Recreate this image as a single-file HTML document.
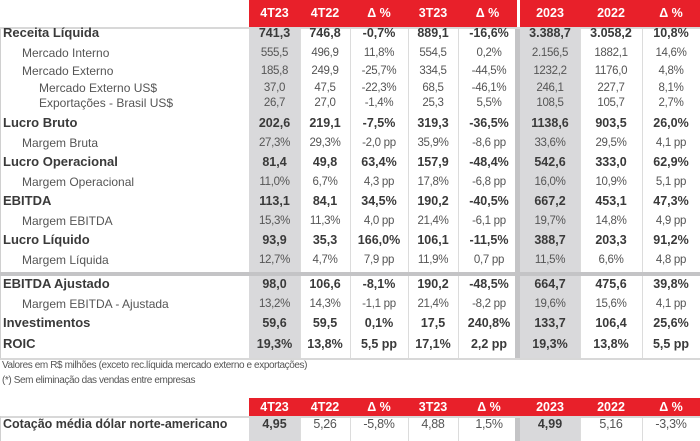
<!DOCTYPE html>
<html><head><meta charset="utf-8"><style>
body{margin:0;width:700px;height:441px;background:#fff;position:relative;overflow:hidden;font-family:"Liberation Sans",Arial,sans-serif;color:#444}
div.a{position:absolute}
.c{position:absolute;text-align:center;white-space:nowrap;line-height:16px}
.l{position:absolute;white-space:nowrap;line-height:16px}
.b{font-weight:bold;font-size:12.5px;color:#3a3a3a}
.n{font-size:11.5px;color:#555;letter-spacing:-0.3px}
.h{position:absolute;text-align:center;color:#fff;font-weight:bold;font-size:12.5px;line-height:16px}
</style></head><body>
<div id="root"></div>
<script>
const colX=[249,300,350,408,458,520,580,642,700];
const headers=["4T23","4T22","Δ %","3T23","Δ %","2023","2022","Δ %"];
const labels=["Receita Líquida","Mercado Interno","Mercado Externo","Mercado Externo US$","Exportações - Brasil US$","Lucro Bruto","Margem Bruta","Lucro Operacional","Margem Operacional","EBITDA","Margem EBITDA","Lucro Líquido","Margem Líquida","EBITDA Ajustado","Margem EBITDA - Ajustada","Investimentos","ROIC"];
const levels=[0,1,1,2,2,0,1,0,1,0,1,0,1,0,1,0,0];
const rowY=[33,53,71,88,103,123,143,162,182,201,221,240,260,284,304,323,344];
const values=[
["741,3","746,8","-0,7%","889,1","-16,6%","3.388,7","3.058,2","10,8%"],
["555,5","496,9","11,8%","554,5","0,2%","2.156,5","1882,1","14,6%"],
["185,8","249,9","-25,7%","334,5","-44,5%","1232,2","1176,0","4,8%"],
["37,0","47,5","-22,3%","68,5","-46,1%","246,1","227,7","8,1%"],
["26,7","27,0","-1,4%","25,3","5,5%","108,5","105,7","2,7%"],
["202,6","219,1","-7,5%","319,3","-36,5%","1138,6","903,5","26,0%"],
["27,3%","29,3%","-2,0 pp","35,9%","-8,6 pp","33,6%","29,5%","4,1 pp"],
["81,4","49,8","63,4%","157,9","-48,4%","542,6","333,0","62,9%"],
["11,0%","6,7%","4,3 pp","17,8%","-6,8 pp","16,0%","10,9%","5,1 pp"],
["113,1","84,1","34,5%","190,2","-40,5%","667,2","453,1","47,3%"],
["15,3%","11,3%","4,0 pp","21,4%","-6,1 pp","19,7%","14,8%","4,9 pp"],
["93,9","35,3","166,0%","106,1","-11,5%","388,7","203,3","91,2%"],
["12,7%","4,7%","7,9 pp","11,9%","0,7 pp","11,5%","6,6%","4,8 pp"],
["98,0","106,6","-8,1%","190,2","-48,5%","664,7","475,6","39,8%"],
["13,2%","14,3%","-1,1 pp","21,4%","-8,2 pp","19,6%","15,6%","4,1 pp"],
["59,6","59,5","0,1%","17,5","240,8%","133,7","106,4","25,6%"],
["19,3%","13,8%","5,5 pp","17,1%","2,2 pp","19,3%","13,8%","5,5 pp"]];
const dolar=["4,95","5,26","-5,8%","4,88","1,5%","4,99","5,16","-3,3%"];
const root=document.getElementById('root');
function box(x,y,w,h,bg,name){const d=document.createElement('div');d.className='a';d.style.cssText=`left:${x}px;top:${y}px;width:${w}px;height:${h}px;background:${bg}`;


root.appendChild(d);return d;}
function txt(cls,x,y,w,t,name,extra){const d=document.createElement('div');d.className=cls;d.style.cssText=`left:${x}px;top:${y-8}px;`+(w?`width:${w}px;`:'')+(extra||'');d.textContent=t;


root.appendChild(d);return d;}
// main table backgrounds
box(0,27,700,333,'#fff','table-body');
box(249,27,51,333,'#d9d9db','col-4t23-shade');
box(517,27,63,333,'#d9d9db','col-2023-shade');
box(515,27,5,333,'#c4c4c6','col-separator-thick');
[300,350,408,458,580,642].forEach(x=>box(x,27,1,333,'#dcdcdc','col-separator'));
box(0,27,1,333,'#d0d0d0','left-border');
box(0,27,700,2,'#d8d8d8','header-underline');
box(0,272,700,4,'#c4c4c6','section-separator');
box(0,358,700,2,'#d8d8d8','bottom-border');
// header
box(249,0,268,27,'#e8202a','header-bar-left');
box(520,0,180,27,'#e8202a','header-bar-right');
headers.forEach((h,i)=>txt('h',colX[i],13,colX[i+1]-colX[i]+(i==4?-3:0),h,'header-'+i));
labels.forEach((lb,r)=>{
  const lv=levels[r];
  txt('l '+(lv==0?'b':'n'),[3,22,39][lv],rowY[r],0,lb,'row-label',lv==0?'font-size:13px':'font-size:12px;letter-spacing:0');
  values[r].forEach((v,i)=>txt('c '+(lv==0?'b':'n'),colX[i],rowY[r],colX[i+1]-colX[i],v,'cell-value'));
});
txt('l n',2,366,0,'Valores em R$ milhões (exceto rec.líquida mercado externo e exportações)','footnote-units','font-size:10px;letter-spacing:-0.4px');
txt('l n',2,381,0,'(*) Sem eliminação das vendas entre empresas','footnote-elimination','font-size:10px;letter-spacing:-0.4px');
// second table
box(249,398,451,18,'#e8202a','header-bar-2');
box(0,416,700,25,'#fff','table2-body');
box(249,416,51,25,'#d9d9db','t2-4t23-shade');
box(517,416,63,25,'#d9d9db','t2-2023-shade');
box(515,416,5,25,'#c4c4c6','t2-separator-thick');
[300,350,408,458,580,642].forEach(x=>box(x,416,1,25,'#dcdcdc','t2-col-separator'));
box(0,416,700,2,'#d8d8d8','t2-top-border');
box(0,416,1,25,'#d0d0d0','t2-left-border');
headers.forEach((h,i)=>txt('h',colX[i],407,colX[i+1]-colX[i],h,'t2-header-'+i));
txt('l b',3,424,0,'Cotação média dólar norte-americano','dolar-label','font-size:12.5px');
dolar.forEach((v,i)=>txt('c '+((i==0||i==5)?'b':'n'),colX[i],424,colX[i+1]-colX[i],v,'dolar-value','font-size:12.5px'));
</script>
</body></html>
